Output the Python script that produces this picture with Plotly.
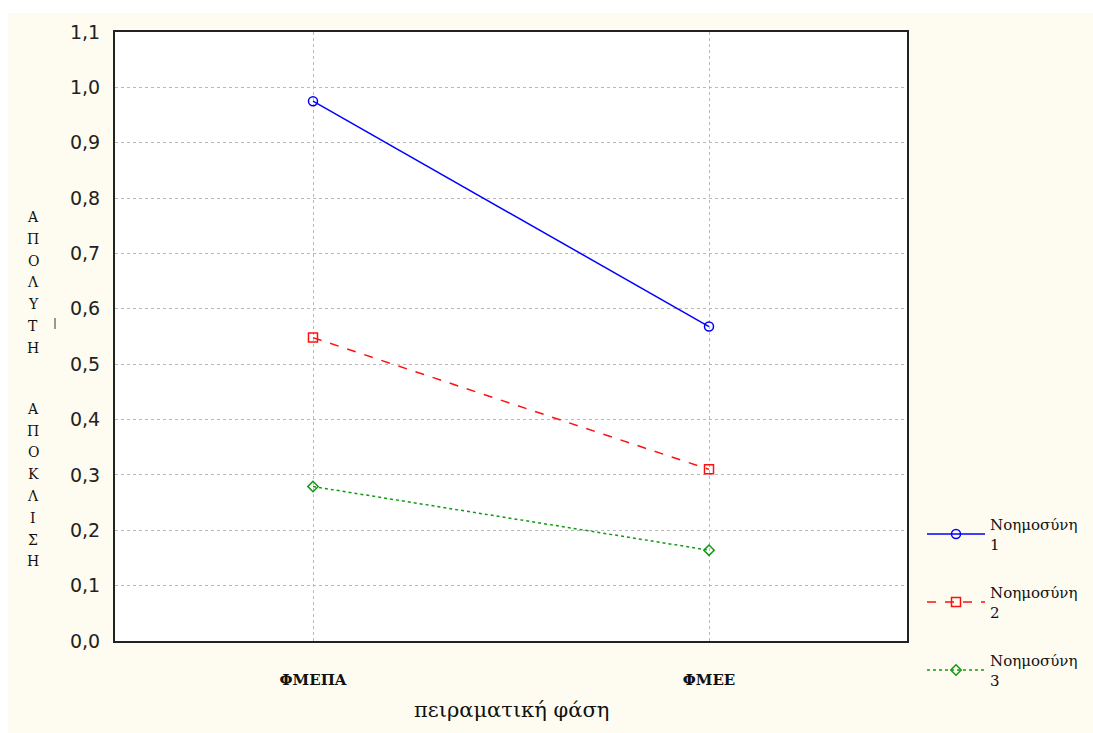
import plotly.graph_objects as go

# Experimental phases (x categories)
phases = ["ΦΜΕΠΑ", "ΦΜΕΕ"]

# Mean absolute deviation per intelligence group
intel_1 = [0.975, 0.568]
intel_2 = [0.548, 0.310]
intel_3 = [0.279, 0.164]

series_names = ["Νοημοσύνη<br>1", "Νοημοσύνη<br>2", "Νοημοσύνη<br>3"]

y_ticks = [0.0, 0.1, 0.2, 0.3, 0.4, 0.5, 0.6, 0.7, 0.8, 0.9, 1.0, 1.1]

y_title_words = ["ΑΠΟΛΥΤΗ", "ΑΠΟΚΛΙΣΗ"]
x_title = "πειραματική φάση"

CREAM = "#fefcf1"
SERIF = "DejaVu Serif, Liberation Serif, serif"
SANS = "DejaVu Sans, Liberation Sans, sans-serif"

# plot-area geometry in pixels (used for converting pixel placements to paper coords)
L, R, T, B = 115, 907, 32, 641
W, H = 1093, 733


def px_x(px):
    return (px - L) / (R - L)


def px_y(py):
    return (B - py) / (B - T)


fig = go.Figure()

styles = [
    dict(color="#0000ff", dash="solid", symbol="circle-open", size=9),
    dict(color="#ff1010", dash="dash", symbol="square-open", size=9),
    dict(color="#109a10", dash="dot", symbol="diamond-open", size=8),
]

for i, (vals, name, st) in enumerate(zip([intel_1, intel_2, intel_3], series_names, styles)):
    fig.add_trace(go.Scatter(
        x=phases, y=vals, name=name, mode="lines+markers",
        legendgroup=f"g{i}",
        line=dict(color=st["color"], width=1.5, dash=st["dash"]),
        marker=dict(symbol=st["symbol"], size=st["size"],
                    line=dict(color=st["color"], width=1.5)),
    ))

# Vertical stacked y-axis title, one letter per line
annotations = []
py = 217
step = 21.8
for wi, word in enumerate(y_title_words):
    for ch in word:
        annotations.append(dict(
            x=px_x(33), y=px_y(py), xref="paper", yref="paper",
            text=ch, showarrow=False, xanchor="center", yanchor="middle",
            font=dict(family=SERIF, size=14, color="#111111"),
        ))
        py += step
    py += step * 1.8

annotations.append(dict(
    x=0.5, y=px_y(710), xref="paper", yref="paper", text=x_title,
    showarrow=False, xanchor="center", yanchor="middle",
    font=dict(family=SERIF, size=21, color="#111111"),
))

shapes = [
    # white strips along the top and left edge of the page
    dict(type="rect", xref="paper", yref="paper", x0=px_x(0), x1=px_x(W),
         y0=px_y(13), y1=px_y(0), fillcolor="white", line_width=0, layer="below"),
    dict(type="rect", xref="paper", yref="paper", x0=px_x(0), x1=px_x(8),
         y0=px_y(H), y1=px_y(0), fillcolor="white", line_width=0, layer="below"),
    # small marker stroke beside the axis title
    dict(type="line", xref="paper", yref="paper", x0=px_x(55), x1=px_x(55),
         y0=px_y(318), y1=px_y(329), line=dict(color="#333333", width=1)),
]

fig.update_layout(
    width=W, height=H,
    margin=dict(l=L, r=W - R, t=T, b=H - B, autoexpand=False),
    paper_bgcolor=CREAM,
    plot_bgcolor="#ffffff",
    separators=",.",
    showlegend=True,
    legend=dict(
        x=px_x(922), y=px_y(508), xanchor="left", yanchor="top",
        bgcolor="rgba(0,0,0,0)", font=dict(family=SERIF, size=15, color="#111111"),
        tracegroupgap=26, valign="middle", itemwidth=58,
    ),
    annotations=annotations,
    shapes=shapes,
)

fig.update_xaxes(
    type="category", range=[-0.5, 1.5],
    showgrid=True, gridcolor="#b8b8b8", griddash="dot", gridwidth=1,
    showline=True, linecolor="#222222", linewidth=2, mirror=True,
    ticks="", ticklabelstandoff=24,
    tickfont=dict(family=SERIF, size=15, color="#111111", weight="bold"),
    zeroline=False,
)

fig.update_yaxes(
    range=[0, 1.1], tickvals=y_ticks, tickformat=".1f",
    showgrid=True, gridcolor="#b8b8b8", griddash="dot", gridwidth=1,
    showline=True, linecolor="#222222", linewidth=2, mirror=True,
    ticks="", ticklabelstandoff=9,
    tickfont=dict(family=SANS, size=19, color="#222222"),
    zeroline=False,
)

fig.write_html("out.html")
